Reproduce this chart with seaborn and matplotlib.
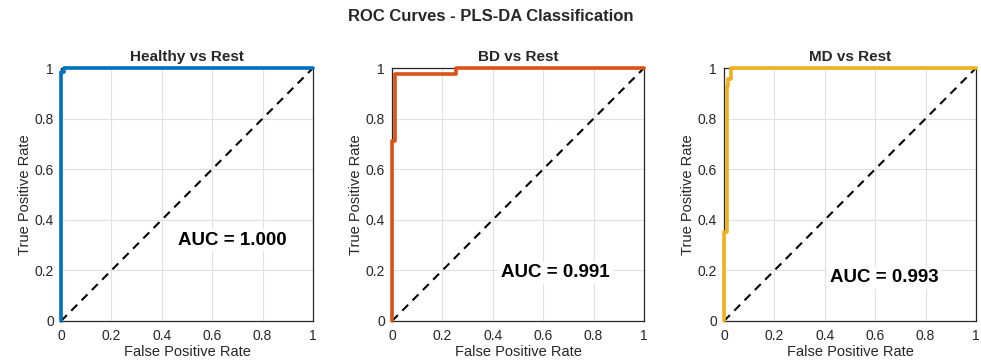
import numpy as np
import pandas as pd
import matplotlib
matplotlib.use("Agg")
import matplotlib.pyplot as plt
import seaborn as sns

# ROC points (step curves)
healthy_fpr = [0, 0, 0.01, 0.01, 1]
healthy_tpr = [0, 0.985, 0.985, 1, 1]

bd_fpr = [0, 0, 0.01, 0.01, 0.255, 0.255, 1]
bd_tpr = [0, 0.71, 0.71, 0.975, 0.975, 1, 1]

md_fpr = [0, 0, 0.01, 0.01, 0.017, 0.017, 0.027, 0.027, 1]
md_tpr = [0, 0.35, 0.35, 0.93, 0.93, 0.955, 0.955, 1, 1]

titles = ["Healthy vs Rest", "BD vs Rest", "MD vs Rest"]
auc_labels = ["AUC = 1.000", "AUC = 0.991", "AUC = 0.993"]
colors = ["#0072BD", "#D95319", "#EDB120"]
ticks = [0, 0.2, 0.4, 0.6, 0.8, 1]
tick_labels = ["0", "0.2", "0.4", "0.6", "0.8", "1"]

curves = [(healthy_fpr, healthy_tpr), (bd_fpr, bd_tpr), (md_fpr, md_tpr)]
auc_pos = [(0.68, 0.32), (0.65, 0.19), (0.635, 0.17)]

sns.set_style("white")
plt.rcParams['font.family'] = ['Liberation Sans', 'DejaVu Sans']

fig = plt.figure(figsize=(9.81, 3.62), dpi=100)
lefts = [61 / 981, 392 / 981, 724 / 981]
w = 252 / 981
b = 41 / 362
h = 253 / 362

for i, (fpr, tpr) in enumerate(curves):
    ax = fig.add_axes([lefts[i], b, w, h])
    ax.grid(True, color="#e0e0e0", linewidth=0.8, zorder=0)
    diag = pd.DataFrame({"x": [0, 1], "y": [0, 1]})
    sns.lineplot(data=diag, x="x", y="y", ax=ax, color="black",
                 linestyle=(0, (4, 3)), linewidth=1.5, zorder=2)
    df = pd.DataFrame({"fpr": fpr, "tpr": tpr})
    sns.lineplot(data=df, x="fpr", y="tpr", ax=ax, sort=False, estimator=None,
                 color=colors[i], linewidth=2.6, zorder=3, clip_on=False)
    ax.set_xlim(0, 1)
    ax.set_ylim(0, 1)
    ax.set_xticks(ticks)
    ax.set_xticklabels(tick_labels)
    ax.set_yticks(ticks)
    ax.set_yticklabels(tick_labels)
    ax.tick_params(direction="in", length=3, labelsize=10, colors="#262626",
                   top=False, right=False)
    ax.tick_params(axis="x", pad=6)
    ax.tick_params(axis="y", pad=5)
    for s in ax.spines.values():
        s.set_color("#262626")
        s.set_linewidth(0.9)
    ax.set_xlabel("False Positive Rate", fontsize=10.5, color="#262626", labelpad=1)
    ax.set_ylabel("True Positive Rate", fontsize=10.5, color="#262626", labelpad=2)
    ax.set_title(titles[i], fontsize=11, fontweight="bold", pad=5)
    ax.text(auc_pos[i][0], auc_pos[i][1], auc_labels[i], fontsize=13.5,
            fontweight="bold", ha="center", va="center", zorder=4, color="black",
            bbox=dict(facecolor="white", edgecolor="none", pad=2))

fig.suptitle("ROC Curves - PLS-DA Classification", fontsize=12,
             fontweight="bold", y=0.975)

fig.savefig("out.png", dpi=100)
